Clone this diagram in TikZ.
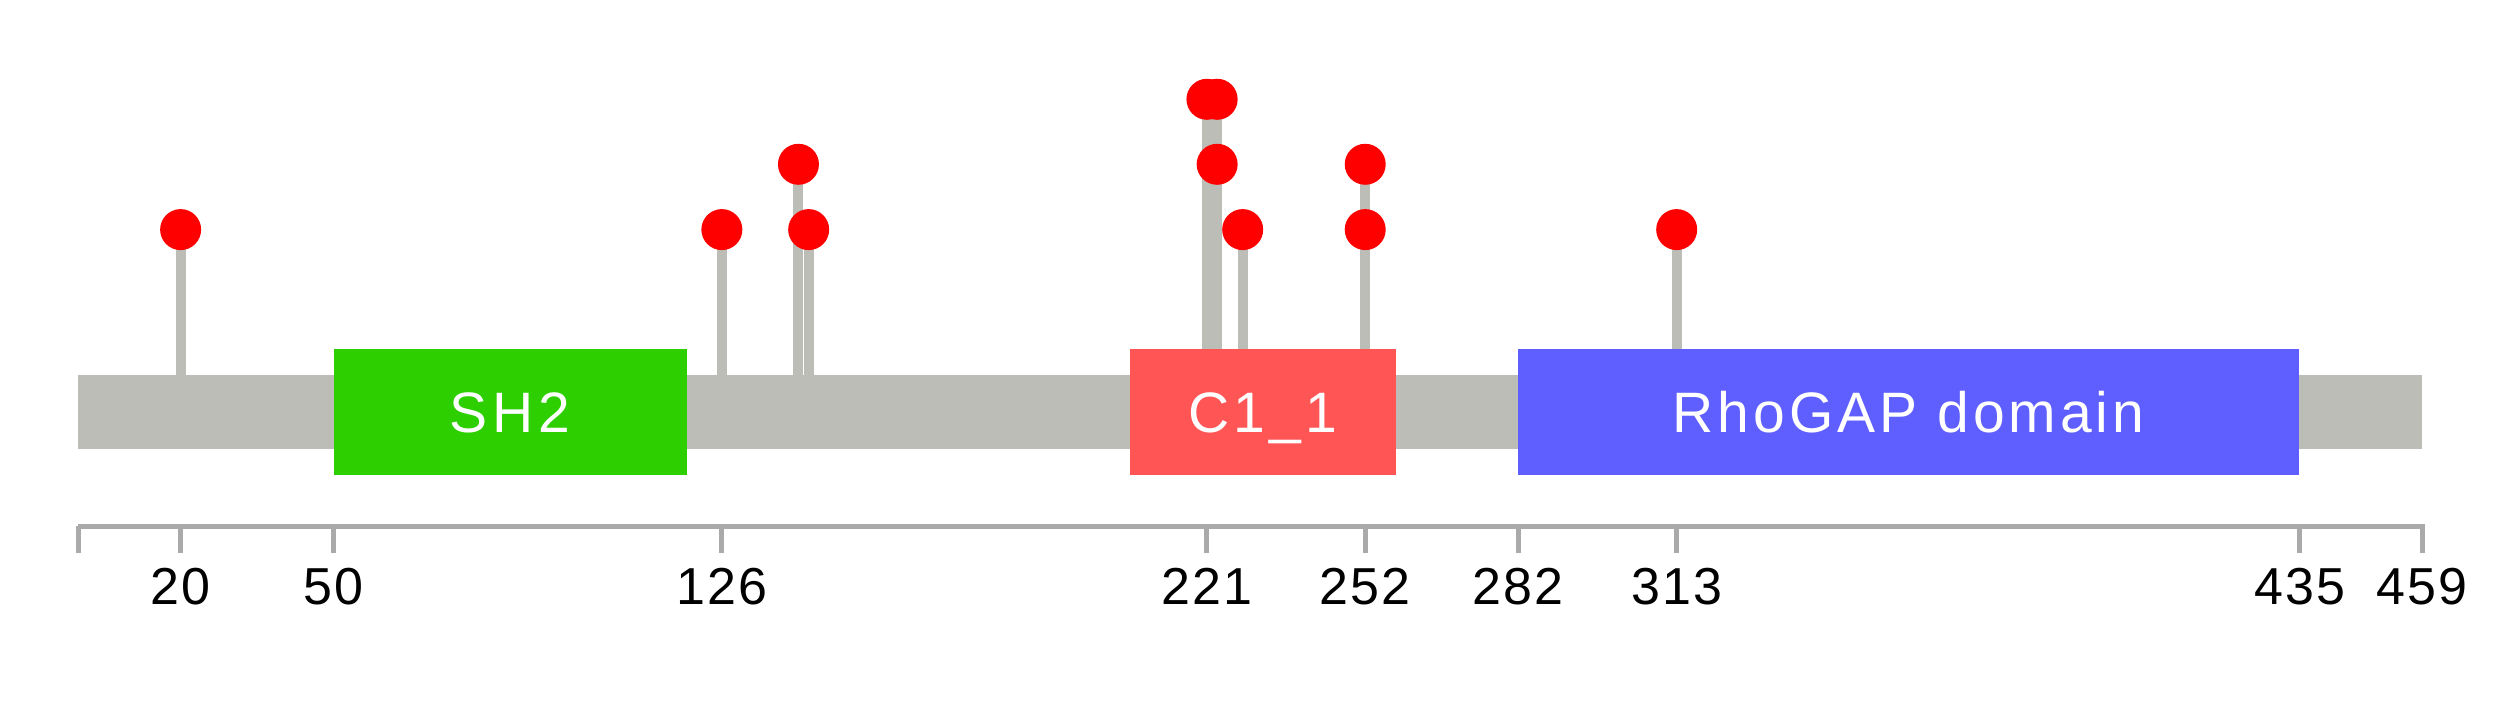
\documentclass[tikz,border=0pt]{standalone}
\usepackage{fontspec}
\setmainfont{Liberation Sans}
\newfontfamily\domfont[LetterSpace=7]{Liberation Sans}
\newfontfamily\shfont[LetterSpace=9]{Liberation Sans}
\newfontfamily\tickfont[LetterSpace=4]{Liberation Sans}
\definecolor{bbone}{HTML}{BBBDB6}
\definecolor{axisc}{HTML}{AAAAAA}
\definecolor{sh2c}{HTML}{2ECF00}
\definecolor{c1c}{HTML}{FF5555}
\definecolor{rhoc}{HTML}{5F5FFF}
\definecolor{mutc}{HTML}{FF0000}
\begin{document}
\begin{tikzpicture}[x=1pt,y=-1pt,
  backbone/.style={fill=bbone, draw=none, inner sep=0pt, minimum height=73.6pt, minimum width=2344pt},
  dom/.style={draw=none, inner sep=0pt, minimum height=125.6pt, text=white, text height=41pt, text depth=0pt, font=\domfont\fontsize{57}{65}\selectfont},
  stemline/.style={draw=bbone, line width=10pt},
  lolli/.style={circle, fill=mutc, draw=none, inner sep=0pt, minimum size=41pt},
  axisline/.style={draw=axisc, line width=5pt},
  tickline/.style={draw=axisc, line width=5pt},
  ticklabel/.style={anchor=base, inner sep=0pt, font=\tickfont\fontsize{52}{60}\selectfont}
]
\useasboundingbox (0,0) rectangle (2500,708);
% stems
\foreach \p/\y in {20/229.6,126/229.6,141/164.3,143/229.6,221/99.3,223/99.3,228/229.6,252/164.3,313/229.6} {
  \coordinate (s\p) at ({78.5+5.106*\p},\y);
  \coordinate (b\p) at ({78.5+5.106*\p},376);
  \draw[stemline] (s\p) -- (b\p);
}
% backbone
\node[backbone] (bb) at (1250,411.8) {};
% domains
\node[dom, fill=sh2c, minimum width=353pt, font=\shfont\fontsize{57}{65}\selectfont] (sh2) at (510,411.8) {SH2};
\node[dom, fill=c1c, minimum width=266pt] (c1) at (1263,411.8) {C1\_1};
\node[dom, fill=rhoc, minimum width=781pt] (rho) at (1908.5,411.8) {RhoGAP domain};
% mutation heads
\node[lolli] (m20) at (s20) {};
\node[lolli] (m126) at (s126) {};
\node[lolli] (m141) at (s141) {};
\node[lolli] (m143) at (s143) {};
\node[lolli] (m221) at (s221) {};
\node[lolli] (m223a) at (s223) {};
\node[lolli] (m223b) at ({78.5+5.106*223},164.3) {};
\node[lolli] (m228) at (s228) {};
\node[lolli] (m252a) at (s252) {};
\node[lolli] (m252b) at ({78.5+5.106*252},229.6) {};
\node[lolli] (m313) at (s313) {};
% axis
\coordinate (axL) at (78,526);
\coordinate (axR) at (2422,526);
\draw[axisline] (axL) -- (axR);
\coordinate (axL2) at (78,553);
\draw[tickline] (axL) -- (axL2);
\foreach \p in {20,50,126,221,252,282,313,435,459} {
  \coordinate (ta\p) at ({78.5+5.106*\p},524);
  \coordinate (tb\p) at ({78.5+5.106*\p},553);
  \draw[tickline] (ta\p) -- (tb\p);
  \node[ticklabel] (t\p) at ({78.5+5.106*\p},604.6) {\p};
}
\end{tikzpicture}
\end{document}
